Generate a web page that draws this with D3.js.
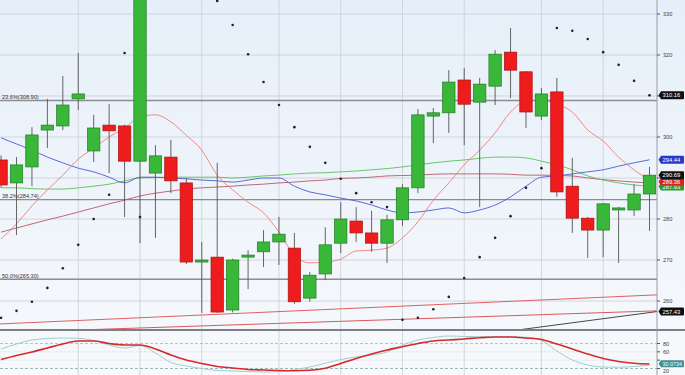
<!DOCTYPE html>
<html><head><meta charset="utf-8">
<script src="https://cdnjs.cloudflare.com/ajax/libs/d3/7.8.5/d3.min.js"></script>
<style>html,body{margin:0;padding:0;background:#fff;overflow:hidden}</style>
</head><body><svg id="c" width="685" height="375"></svg>
<script>
// ---- data ----
const opens  = [294.4,288.8,292.7,301.7,302.7,309.3,296.6,302.9,302.7,294.1,291.2,295.1,288.8,269.5,270.7,257.8,270.7,272.0,274.4,272.9,260.7,266.6,274.1,279.5,276.6,274.1,279.8,287.6,305.1,305.9,313.9,308.5,312.4,320.7,315.9,305.1,311.0,288.0,280.2,277.3,282.2,282.2,286.1];
const highs  = [295.5,295.1,302.4,309.3,314.9,320.5,305.4,308.0,303.0,338.0,298.0,299.3,290.0,274.4,293.7,270.3,272.4,277.3,280.5,276.6,267.1,278.0,284.1,282.9,282.0,281.0,288.5,306.8,307.1,316.3,316.8,314.4,321.2,326.6,316.1,312.0,314.4,294.9,280.5,283.9,282.9,288.5,292.7];
const lows   = [287.6,276.1,288.0,297.3,301.7,306.6,293.9,291.2,280.5,274.1,275.4,286.3,269.0,257.1,257.1,257.2,262.9,268.3,268.8,259.3,259.8,265.1,271.7,274.4,272.0,269.3,278.3,286.3,298.5,301.0,298.0,282.9,307.8,309.5,302.2,304.1,285.4,276.6,270.5,270.7,269.3,280.7,277.1];
const closes = [288.3,293.2,300.5,302.9,307.8,310.5,302.2,301.5,294.1,336.0,295.4,289.3,269.5,270.0,257.3,270.0,271.2,274.4,276.3,259.8,266.3,273.7,280.0,276.6,274.1,279.8,287.6,305.4,305.9,313.4,308.0,312.9,320.2,316.3,306.1,310.5,286.6,280.2,277.3,283.7,282.7,286.1,290.69];
const sarDots = [255.9,257.6,259.8,263.2,268.0,273.7,280.0,285.9,320.5,280.5,null,null,null,null,333.2,327.3,320.2,313.4,307.8,302.4,297.6,293.7,289.8,286.3,284.1,282.9,255.4,255.9,258.0,261.0,265.6,270.7,275.4,280.7,287.6,292.4,326.6,325.9,323.9,320.7,317.6,313.7,310.16];
const maShort = [275.1,278.8,283.2,287.1,290.7,294.6,297.3,300.0,302.2,304.9,305.4,303.7,300.4,296.8,290.7,287.1,284.1,281.5,276.8,271.2,269.3,269.5,270.2,272.2,272.4,272.9,275.4,279.3,284.6,288.8,293.2,296.8,301.0,306.1,308.8,309.0,308.0,306.1,301.7,299.0,295.1,292.0,289.4];
const maBlue  = [299.8,298.3,296.8,295.1,293.7,292.4,291.5,290.2,288.8,290.2,290.2,290.0,289.8,289.5,289.3,289.0,289.5,290.0,290.0,288.0,286.6,285.9,285.1,284.4,283.4,282.2,281.5,281.7,282.2,282.7,281.5,282.2,283.4,285.4,288.0,290.2,290.5,291.0,291.5,292.0,292.9,293.7,294.44];
const maGreen = [287.6,287.6,287.4,287.3,287.3,287.6,288.0,288.5,289.3,290.0,290.1,290.2,290.2,290.2,290.2,290.0,290.2,290.5,290.7,291.0,291.2,291.3,291.5,291.7,292.0,292.3,292.7,293.2,293.7,294.1,294.4,294.8,295.1,295.1,294.9,294.1,293.2,292.0,290.5,289.5,288.8,288.3,288.0];
const maLong  = [276.8,277.8,278.8,279.8,280.7,281.7,282.7,283.7,284.6,285.6,286.3,286.8,287.3,287.6,287.8,288.0,288.3,288.5,288.8,289.0,289.3,289.5,289.9,290.0,290.2,290.5,290.6,290.7,290.9,291.0,291.0,291.0,291.0,290.9,290.7,290.7,290.6,290.5,290.0,289.6,289.3,289.0,288.8];
// straight trend lines: [candle index, price] end points
const trendUpper = [[-0.1,254.4],[42.5,261.5]];
const trendLower = [[0,252.3],[42.5,257.6]];
const trendBlack = [[30,251.2],[42.5,257.43]];
// Fibonacci levels
const fibLevels = [{pct:"23.6%",v:308.90},{pct:"38.2%",v:284.74},{pct:"50.0%",v:265.30}];
// stochastic
const stochD = [41.6,51.2,59.6,69.2,78.8,86,86,80,76.4,76.4,66.8,52.4,40.4,32,24.8,21.2,17.6,16.4,15.2,14.7,15.7,20.5,32,44,54.8,64.4,72.3,80,86,88.4,90.8,93.9,95.6,95.6,93.2,89.6,78.8,66.8,54.8,44,36.8,32.5,30.8];
const stochK = [66.8,78.8,88.4,92,93.2,92.5,87.2,76.4,69.2,75.2,57.2,34.4,26,20,15.2,14,12.8,11.6,12.3,17.6,23.6,32.5,41.6,47.6,52.4,59.6,76.4,88.4,94.4,98,96.8,96.3,96.3,96.3,94.9,87.2,62,40.4,28.4,23.6,22.9,24.8,28.4];
const priceTicks = [330,320,310,300,290,280,270,260];
const priceTickLabels = [330,320,300,280,270,260];   // 310 and 290 sit under value tags
const stochTicks = [80,60,40,20];
const stochTickLabels = [80,60,20];                  // 40 sits under the value tag
const gridIdx = [5,9,13,18,22,26,30,35,39];
const tags = [
  {v:287.9, text:"287.93", bg:"#2f9a2f"},
  {v:289.1, text:"289.36", bg:"#d42424"},
  {v:290.69,text:"290.69", bg:"#111"},
  {v:294.44,text:"294.44", bg:"#2838c8"},
  {v:310.16,text:"310.16", bg:"#111"},
  {v:257.43,text:"257.43", bg:"#111"}
];
const stochTag = {v:31.6, text:"30.0734", bg:"#3e8f95"};

// ---- layout ----
const W=685,H=375, plotR=657, mainB=330;
const svg=d3.select("#c");
const defs=svg.append("defs");
const grad=defs.append("linearGradient").attr("id","bg").attr("x1",0).attr("y1",0).attr("x2",0).attr("y2",1);
grad.append("stop").attr("offset","0%").attr("stop-color","#e6eff9");
grad.append("stop").attr("offset","100%").attr("stop-color","#f7f9fc");
defs.append("clipPath").attr("id","mainClip").append("rect").attr("x",0).attr("y",0).attr("width",plotR).attr("height",mainB);
defs.append("clipPath").attr("id","stClip").append("rect").attr("x",0).attr("y",mainB+1).attr("width",plotR).attr("height",H-mainB);
svg.append("rect").attr("width",W).attr("height",H).attr("fill","url(#bg)");

const n=closes.length;
const x=d3.scaleLinear().domain([0,n-1]).range([1.06,649.5]);
const y=d3.scaleLinear().domain([260,330]).range([301,14]);
const ys=d3.scaleLinear().domain([20,80]).range([368.5,343.5]);
const bw=12.4;

// grid
const g=svg.append("g");
g.selectAll(".vg").data(gridIdx).enter().append("line")
 .attr("x1",d=>x(d)).attr("x2",d=>x(d)).attr("y1",0).attr("y2",H)
 .attr("stroke","#c9ced6").attr("stroke-width",0.8);
g.selectAll(".hg").data(priceTicks).enter().append("line")
 .attr("x1",0).attr("x2",plotR).attr("y1",d=>y(d)).attr("y2",d=>y(d))
 .attr("stroke","#c9ced6").attr("stroke-width",0.8);

const main=svg.append("g").attr("clip-path","url(#mainClip)");
// fib lines
main.selectAll(".fib").data(fibLevels).enter().append("line")
 .attr("x1",0).attr("x2",plotR).attr("y1",d=>y(d.v)).attr("y2",d=>y(d.v))
 .attr("stroke","#8a8d92").attr("stroke-width",1.3);
main.selectAll(".fibt").data(fibLevels).enter().append("text")
 .attr("x",2).attr("y",d=>y(d.v)-1.6)
 .attr("font-family","Liberation Sans, Arial, sans-serif").attr("font-size",5.6).attr("fill","#333")
 .text(d=>`${d.pct}(${d.v.toFixed(2)})`);

// trend lines
const tl=d3.line().x(d=>x(d[0])).y(d=>y(d[1]));
main.append("path").attr("d",tl(trendUpper)).attr("fill","none").attr("stroke","#e06060").attr("stroke-width",1);
main.append("path").attr("d",tl(trendLower)).attr("fill","none").attr("stroke","#d85a5a").attr("stroke-width",1);
main.append("path").attr("d",tl(trendBlack)).attr("fill","none").attr("stroke","#333").attr("stroke-width",0.9);

// moving averages
const ln=d3.line().x((d,i)=>x(i)).y(d=>y(d)).curve(d3.curveMonotoneX);
[[maLong,"#b35a66",0.9],[maGreen,"#5cbf5c",0.9],[maBlue,"#4a5bd0",0.9],[maShort,"#f07c7c",0.9]].forEach(([arr,c,w])=>{
  main.append("path").attr("d",ln(arr)).attr("fill","none").attr("stroke",c).attr("stroke-width",w);
});

// candles
const idx=d3.range(n);
main.selectAll(".wick").data(idx).enter().append("line")
 .attr("x1",i=>x(i)).attr("x2",i=>x(i)).attr("y1",i=>y(highs[i])).attr("y2",i=>y(lows[i]))
 .attr("stroke","#555").attr("stroke-width",0.9);
main.selectAll(".body").data(idx).enter().append("rect")
 .attr("x",i=>x(i)-bw/2).attr("width",bw)
 .attr("y",i=>y(Math.max(opens[i],closes[i])))
 .attr("height",i=>Math.max(1.5,Math.abs(y(opens[i])-y(closes[i]))))
 .attr("fill",i=>closes[i]>=opens[i]?"#38b738":"#ee1c1c")
 .attr("stroke",i=>closes[i]>=opens[i]?"#237a23":"#a81212").attr("stroke-width",0.7);

// SAR dots
main.selectAll(".sar").data(idx.filter(i=>sarDots[i]!==null)).enter().append("circle")
 .attr("cx",i=>x(i)).attr("cy",i=>y(sarDots[i])).attr("r",1.3).attr("fill","#222");

// separator and axis
svg.append("line").attr("x1",0).attr("x2",W).attr("y1",mainB).attr("y2",mainB).attr("stroke","#7c7f84").attr("stroke-width",2);
svg.append("line").attr("x1",plotR).attr("x2",plotR).attr("y1",0).attr("y2",H).attr("stroke","#9a9da2").attr("stroke-width",1);

// stochastic panel
const st=svg.append("g").attr("clip-path","url(#stClip)");
st.selectAll(".sg").data([60,40]).enter().append("line")
 .attr("x1",0).attr("x2",plotR).attr("y1",d=>ys(d)).attr("y2",d=>ys(d))
 .attr("stroke","#cfd3d8").attr("stroke-width",0.8).attr("stroke-dasharray","1,1");
st.append("line").attr("x1",0).attr("x2",plotR).attr("y1",ys(80)).attr("y2",ys(80))
 .attr("stroke","#e89a9a").attr("stroke-width",0.8).attr("stroke-dasharray","3,2");
st.append("line").attr("x1",0).attr("x2",plotR).attr("y1",ys(20)).attr("y2",ys(20))
 .attr("stroke","#7fa8aa").attr("stroke-width",0.8).attr("stroke-dasharray","3,2");
const sl=d3.line().x((d,i)=>x(i)).y(d=>ys(d)).curve(d3.curveMonotoneX);
st.append("path").attr("d",sl(stochK)).attr("fill","none").attr("stroke","#9fcfcf").attr("stroke-width",1);
st.append("path").attr("d",sl(stochD)).attr("fill","none").attr("stroke","#d42a2a").attr("stroke-width",1.6);

// axis ticks & labels
const ax=svg.append("g").attr("font-family","Liberation Sans, Arial, sans-serif").attr("font-size",5.6).attr("fill","#444");
ax.selectAll(".pt").data(priceTicks).enter().append("line")
 .attr("x1",plotR).attr("x2",plotR+3).attr("y1",d=>y(d)).attr("y2",d=>y(d)).attr("stroke","#555");
ax.selectAll(".ptl").data(priceTickLabels).enter().append("text")
 .attr("x",plotR+6).attr("y",d=>y(d)+2).text(d=>d);
ax.selectAll(".st").data(stochTicks).enter().append("line")
 .attr("x1",plotR).attr("x2",plotR+3).attr("y1",d=>ys(d)).attr("y2",d=>ys(d)).attr("stroke","#555");
ax.selectAll(".stl").data(stochTickLabels).enter().append("text")
 .attr("x",plotR+6).attr("y",d=>ys(d)+(d===20?4:2)).text(d=>d);

// value tags
function tag(yy,text,bg,h,fs){
  const gg=svg.append("g");
  const x0=plotR+1.5, x1=W-1;
  gg.append("path").attr("d",`M${x0},${yy} L${x0+2.5},${yy-h/2} L${x1-1},${yy-h/2} Q${x1},${yy-h/2} ${x1},${yy-h/2+1} L${x1},${yy+h/2-1} Q${x1},${yy+h/2} ${x1-1},${yy+h/2} L${x0+2.5},${yy+h/2} Z`).attr("fill",bg);
  gg.append("text").attr("x",x0+4).attr("y",yy+fs*0.36).attr("font-family","Liberation Sans, Arial, sans-serif")
   .attr("font-size",fs).attr("fill","#fff").text(text);
}
tags.forEach(t=>tag(y(t.v),t.text,t.bg,8,5.8));
tag(ys(stochTag.v),stochTag.text,stochTag.bg,7,5.4);
</script></body></html>
